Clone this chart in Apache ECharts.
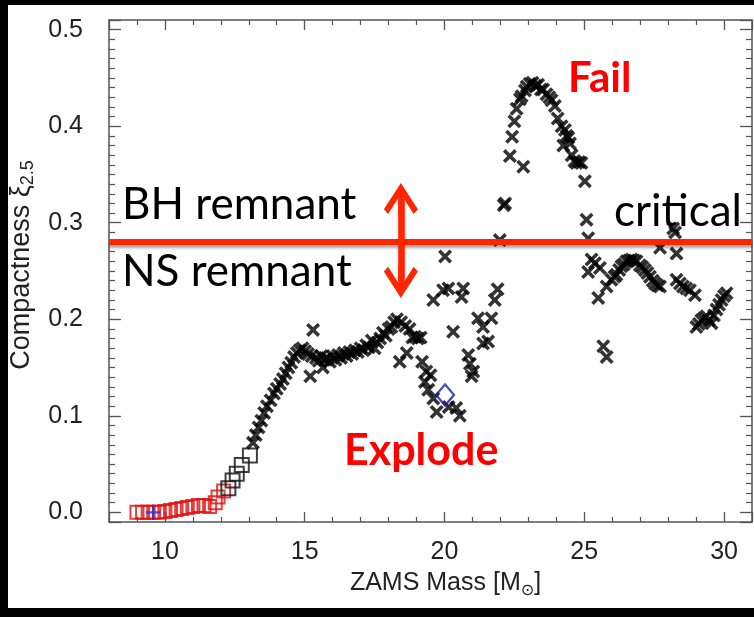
<!DOCTYPE html>
<html><head><meta charset="utf-8">
<script src="https://cdn.jsdelivr.net/npm/echarts@6/dist/echarts.min.js"></script>
<style>
html,body{margin:0;padding:0;background:#000;width:754px;height:617px;overflow:hidden}
#c{position:absolute;left:8px;top:5px;width:746px;height:603px;background:#fff}
</style></head><body><div id="c"></div>
<script>
// ---- data (ZAMS mass [Msun], compactness xi_2.5) ----
const redSquares = [[9.0,0.000],[9.2,0.000],[9.4,0.000],[9.6,0.000],[9.8,0.000],[10.0,0.001],[10.2,0.002],[10.4,0.003],[10.6,0.004],[10.8,0.005],[11.0,0.006],[11.2,0.007],[11.4,0.007],[11.6,0.006],[11.8,0.010],[11.9,0.016],[12.1,0.022]];
const blackSquares = [[12.27,0.025],[12.42,0.033],[12.57,0.040],[12.75,0.049],[13.04,0.059]];
const crosses = [
 [13.15,0.072],[13.25,0.080],[13.35,0.088],[13.45,0.095],[13.55,0.103],[13.65,0.110],[13.78,0.116],[13.9,0.123],[14.0,0.128],[14.12,0.133],[14.22,0.138],[14.32,0.144],[14.42,0.150],[14.52,0.155],[14.62,0.161],[14.72,0.165],[14.82,0.168],[14.92,0.170],[15.02,0.167],[15.12,0.164],
 [15.3,0.189],[15.2,0.141],[15.65,0.150],
 [15.25,0.162],[15.4,0.160],[15.5,0.157],[15.6,0.162],[15.7,0.158],[15.8,0.160],[15.9,0.156],[16.0,0.162],[16.1,0.158],[16.2,0.163],[16.3,0.160],[16.4,0.165],[16.5,0.162],[16.6,0.166],[16.7,0.164],[16.8,0.168],[16.9,0.166],[17.0,0.170],[17.1,0.168],[17.2,0.173],[17.3,0.171],[17.4,0.178],[17.5,0.170],[17.6,0.176],[17.7,0.180],[17.8,0.186],[17.9,0.183],[18.0,0.190],[18.1,0.192],[18.2,0.197],[18.3,0.200],[18.45,0.197],[18.6,0.193],[18.75,0.190],
 [18.4,0.156],[18.65,0.165],[18.85,0.181],[18.95,0.182],[19.05,0.180],[19.15,0.181],[19.2,0.156],[19.35,0.146],[19.3,0.135],[19.5,0.142],[19.42,0.127],[19.6,0.118],[19.72,0.104],[20.15,0.109],[20.42,0.108],[20.55,0.100],
 [19.6,0.220],[19.95,0.230],[20.02,0.265],[20.14,0.232],[20.31,0.187],[20.61,0.223],[20.67,0.232],[20.85,0.163],[20.91,0.154],[21.03,0.146],[20.97,0.141],[21.2,0.201],[21.38,0.192],[21.38,0.175],[21.56,0.177],[21.68,0.201],[21.8,0.220],[21.9,0.231],[21.98,0.282],[22.12,0.318],[22.17,0.320],
 [22.34,0.369],[22.82,0.358],[22.42,0.389],[22.5,0.405],[22.58,0.418],[22.7,0.428],[22.76,0.431],[22.88,0.437],[22.94,0.441],[23.05,0.444],[23.15,0.445],[23.25,0.442],[23.35,0.443],[23.45,0.438],[23.53,0.438],[23.65,0.433],[23.75,0.430],[23.83,0.427],[23.95,0.421],[24.05,0.408],[24.19,0.400],[24.31,0.396],[24.25,0.380],[24.37,0.390],[24.43,0.388],[24.49,0.382],[24.55,0.370],[24.65,0.364],[24.72,0.362],[24.82,0.363],[24.9,0.362],[25.02,0.343],
 [25.08,0.303],[25.14,0.284],[25.26,0.262],[25.14,0.249],[25.38,0.258],[25.5,0.222],[25.56,0.253],[25.68,0.172],[25.8,0.161],[25.8,0.234],[25.97,0.241],[26.08,0.244],[26.15,0.246],[26.25,0.251],[26.33,0.255],[26.42,0.257],[26.51,0.260],[26.6,0.261],[26.69,0.262],[26.78,0.261],[26.87,0.260],[26.99,0.256],[27.08,0.254],[27.17,0.251],[27.26,0.248],[27.35,0.244],[27.45,0.240],[27.53,0.237],[27.62,0.235],[27.71,0.234],[27.71,0.274],[28.18,0.294],[28.25,0.290],[28.3,0.268],[28.3,0.241],[28.42,0.237],[28.53,0.234],[28.65,0.232],[28.78,0.230],[28.96,0.225],[29.01,0.192],[29.1,0.195],[29.19,0.199],[29.28,0.201],[29.37,0.203],[29.46,0.199],[29.55,0.196],[29.64,0.204],[29.73,0.210],[29.82,0.215],[29.91,0.220],[30.0,0.224],[30.09,0.227]
];
const bluePlus = [[9.58,0.0]];
const blueDiamond = [[20.02,0.1216]];
const criticalXi = 0.282;
const arrowMass = 18.44;
const arrowEnds = [0.3247, 0.2387];
const xRange = [8, 31];
const yRange = [-0.01, 0.51];

const crossPath = 'path://M0,3.6 L3.6,0 L10,6.4 L16.4,0 L20,3.6 L13.6,10 L20,16.4 L16.4,20 L10,13.6 L3.6,20 L0,16.4 L6.4,10 Z';
const plusPath = 'path://M8.5,0 L11.5,0 L11.5,8.5 L20,8.5 L20,11.5 L11.5,11.5 L11.5,20 L8.5,20 L8.5,11.5 L0,11.5 L0,8.5 L8.5,8.5 Z';
const chevron = 'path://M20,0 L40,28 L35,33 L23,16 L23,34 L17,34 L17,16 L5,33 L0,28 Z';
const RED = '#ff2500';
const AX = '#555';
const tickFont = {fontFamily:'Liberation Sans', fontSize:25, color:'#222'};

function xAxisBase(pos){
  return {type:'value', min:xRange[0], max:xRange[1], position:pos, minInterval:5, maxInterval:5,
    axisLine:{show:true, onZero:false, lineStyle:{color:AX, width:1.5}},
    axisTick:{show:true, inside:true, length:10, lineStyle:{color:AX, width:1.3}},
    minorTick:{show:true, splitNumber:5, length:5, lineStyle:{color:AX, width:1.2}},
    splitLine:{show:false}, minorSplitLine:{show:false}};
}
function yAxisBase(pos){
  return {type:'value', min:yRange[0], max:yRange[1], position:pos, minInterval:0.1, maxInterval:0.1,
    axisLine:{show:true, onZero:false, lineStyle:{color:AX, width:1.5}},
    axisTick:{show:true, inside:true, length:12, lineStyle:{color:AX, width:1.3}},
    minorTick:{show:true, splitNumber:10, length:6, lineStyle:{color:AX, width:1.2}},
    splitLine:{show:false}, minorSplitLine:{show:false}};
}

const chart = echarts.init(document.getElementById('c'), null, {renderer:'canvas'});
const xb = xAxisBase('bottom');
Object.assign(xb, {
  axisLabel:{show:true, margin:18, showMinLabel:false, showMaxLabel:false, ...tickFont},
  name:'{a|ZAMS Mass [M}{s|⊙}{a|]}', nameLocation:'middle', nameGap:45,
  nameTextStyle:{padding:[0,0,0,30], rich:{
    a:{fontFamily:'Liberation Sans', fontSize:25, color:'#222', lineHeight:32, verticalAlign:'middle'},
    s:{fontFamily:'DejaVu Sans', fontSize:16, color:'#222', lineHeight:16, verticalAlign:'bottom'}}}
});
const xt = xAxisBase('top'); xt.axisLabel = {show:false};
const yl = yAxisBase('left');
Object.assign(yl, {
  axisLabel:{show:true, margin:26, showMinLabel:false, showMaxLabel:false, formatter:v=>v.toFixed(1), ...tickFont},
  name:'{a|Compactness ξ}{s|2.5}', nameLocation:'middle', nameGap:70, nameRotate:90,
  nameTextStyle:{padding:[0,0,0,12], rich:{
    a:{fontFamily:'Liberation Sans', fontSize:27, color:'#222', lineHeight:32, verticalAlign:'middle'},
    s:{fontFamily:'Liberation Sans', fontSize:18, color:'#222', lineHeight:18, verticalAlign:'bottom'}}}
});
const yr = yAxisBase('right'); yr.axisLabel = {show:false};

const option = {
  animation:false,
  backgroundColor:'#fff',
  grid:{left:101, right:2, top:15, bottom:86, containLabel:false, outerBoundsMode:'none'},
  xAxis:[xb, xt],
  yAxis:[yl, yr],
  series:[
    {type:'scatter', data:redSquares, symbol:'rect', symbolSize:13,
     itemStyle:{color:'rgba(0,0,0,0)', borderColor:'#e01010', borderWidth:2}},
    {type:'scatter', data:blackSquares, symbol:'rect', symbolSize:14,
     itemStyle:{color:'rgba(0,0,0,0)', borderColor:'#111', borderWidth:2}},
    {type:'scatter', data:crosses, symbol:crossPath, symbolSize:14,
     itemStyle:{color:'#000'},
     markLine:{silent:true, symbol:['none','none'], label:{show:false},
       lineStyle:{color:RED, width:6, type:'solid', shadowColor:'rgba(0,0,0,0.35)', shadowBlur:3, shadowOffsetY:3},
       data:[{yAxis:criticalXi}]}},
    {type:'scatter', data:bluePlus, symbol:plusPath, symbolSize:15, itemStyle:{color:'#2a2ad8'}},
    {type:'scatter', data:blueDiamond, symbol:'diamond', symbolSize:[18,21],
     itemStyle:{color:'rgba(0,0,0,0)', borderColor:'#1a1aa8', borderWidth:2.2},
     markLine:{silent:true, symbol:[chevron, chevron], symbolSize:[34,32], label:{show:false},
       lineStyle:{color:RED, width:6.5, type:'solid', shadowColor:'rgba(0,0,0,0.3)', shadowBlur:3, shadowOffsetY:2},
       data:[[{coord:[arrowMass, arrowEnds[0]]},{coord:[arrowMass, arrowEnds[1]]}]]}}
  ],
  graphic:[
    {type:'text', left:114, top:178, style:{text:'BH remnant', font:'44px Lato', fill:'#000'}},
    {type:'text', left:114, top:245, style:{text:'NS remnant', font:'44px Lato', fill:'#000'}},
    {type:'text', left:606, top:185, style:{text:'critical', font:'44px Lato', fill:'#000'}},
    {type:'text', left:560, top:52, style:{text:'Fail', font:'bold 42px Lato', fill:'#ff0000'}},
    {type:'text', left:336, top:425, style:{text:'Explode', font:'bold 43px Lato', fill:'#ff0000'}}
  ]
};
chart.setOption(option);
</script></body></html>
